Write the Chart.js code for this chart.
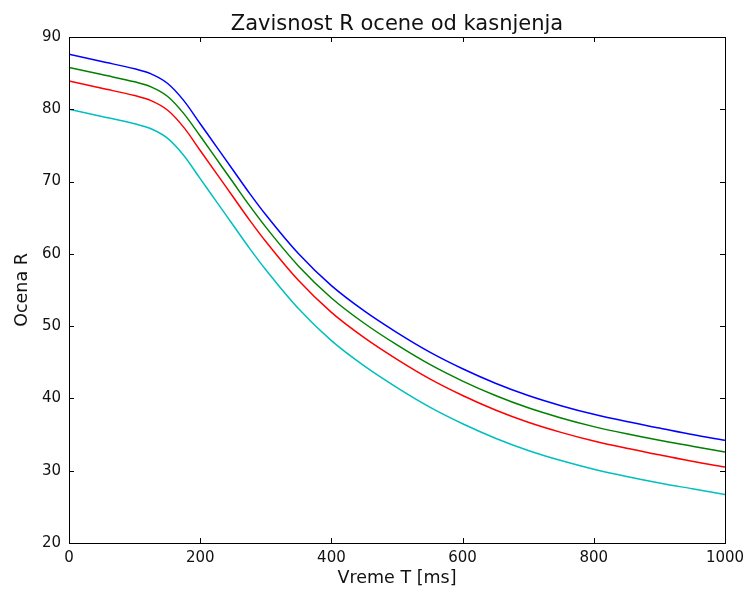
<!DOCTYPE html>
<html>
<head>
<meta charset="utf-8">
<script src="https://cdn.jsdelivr.net/npm/chart.js@4.4.1/dist/chart.umd.min.js"></script>
<style>
  html, body { margin: 0; padding: 0; background: #fff; }
  #wrap { width: 752px; height: 599px; }
</style>
</head>
<body>
<div id="wrap"><canvas id="c" width="752" height="599"></canvas></div>
<script>
// Delay values (ms) at which curves were read
const delays = [0, 50, 100, 125, 150, 175, 200, 225, 250, 275, 300, 350, 400, 450, 500, 550, 600, 650, 700, 750, 800, 850, 900, 950, 1000];
// R rating series
const seriesBlue  = [87.6, 86.6, 85.6, 84.9, 83.6, 81.2, 78.0, 74.8, 71.6, 68.4, 65.4, 60.0, 55.6, 52.1, 49.1, 46.4, 44.1, 42.1, 40.4, 39.0, 37.8, 36.8, 35.9, 35.0, 34.2];
const seriesGreen = [85.8, 84.8, 83.8, 83.1, 81.8, 79.4, 76.3, 73.1, 69.9, 66.7, 63.7, 58.3, 53.9, 50.4, 47.4, 44.7, 42.4, 40.4, 38.7, 37.3, 36.1, 35.1, 34.2, 33.4, 32.6];
const seriesRed   = [83.9, 82.9, 81.9, 81.2, 79.9, 77.5, 74.3, 71.1, 67.9, 64.7, 61.7, 56.3, 51.9, 48.4, 45.4, 42.7, 40.4, 38.4, 36.7, 35.3, 34.1, 33.1, 32.2, 31.3, 30.5];
const seriesCyan  = [80.0, 79.0, 78.0, 77.3, 76.0, 73.6, 70.4, 67.2, 64.0, 60.8, 57.8, 52.4, 48.0, 44.5, 41.5, 38.8, 36.5, 34.5, 32.8, 31.4, 30.2, 29.2, 28.3, 27.5, 26.7];
const xTicks = [0, 200, 400, 600, 800, 1000];
const yTicks = [20, 30, 40, 50, 60, 70, 80, 90];
const titleText = 'Zavisnost R ocene od kasnjenja';
const xTitle = 'Vreme T [ms]';
const yTitle = 'Ocena R';

const toPts = arr => delays.map((d, i) => ({ x: d, y: arr[i] }));
const FONT = 'DejaVu Sans';

const frameTicks = {
  id: 'frameTicks',
  afterDatasetsDraw(chart) {
    const { ctx, chartArea: a, scales } = chart;
    ctx.save();
    ctx.strokeStyle = '#000';
    ctx.lineWidth = 1;
    ctx.beginPath();
    const L = 5;
    xTicks.forEach(v => {
      const px = Math.round(scales.x.getPixelForValue(v)) + 0.5;
      ctx.moveTo(px, a.bottom); ctx.lineTo(px, a.bottom - L);
      ctx.moveTo(px, a.top); ctx.lineTo(px, a.top + L);
    });
    yTicks.forEach(v => {
      const py = Math.round(scales.y.getPixelForValue(v)) + 0.5;
      ctx.moveTo(a.left, py); ctx.lineTo(a.left + L, py);
      ctx.moveTo(a.right, py); ctx.lineTo(a.right - L, py);
    });
    ctx.stroke();
    ctx.strokeRect(Math.round(a.left) + 0.5, Math.round(a.top) + 0.5,
                   Math.round(a.right - a.left), Math.round(a.bottom - a.top));
    // title centred over the plot area
    ctx.fillStyle = '#111';
    ctx.font = '21px "' + FONT + '"';
    ctx.textAlign = 'center';
    ctx.textBaseline = 'alphabetic';
    ctx.fillText(titleText, (a.left + a.right) / 2, 30);
    ctx.restore();
  }
};

new Chart(document.getElementById('c'), {
  type: 'line',
  data: {
    datasets: [
      { data: toPts(seriesBlue),  borderColor: '#0000ff' },
      { data: toPts(seriesGreen), borderColor: '#008000' },
      { data: toPts(seriesRed),   borderColor: '#ff0000' },
      { data: toPts(seriesCyan),  borderColor: '#00bfbf' }
    ].map(d => Object.assign(d, {
      borderWidth: 1.5, pointRadius: 0, fill: false,
      cubicInterpolationMode: 'monotone'
    }))
  },
  options: {
    responsive: false,
    animation: false,
    devicePixelRatio: 1,
    layout: { padding: { left: 0, right: 27, top: 37, bottom: 0 } },
    plugins: {
      legend: { display: false },
      tooltip: { enabled: false },
      title: { display: false }
    },
    scales: {
      x: {
        type: 'linear', min: 0, max: 1000,
        grid: { display: false, drawTicks: false },
        border: { display: true, color: '#000' },
        ticks: {
          stepSize: 200, color: '#111', padding: 6, maxRotation: 0, autoSkip: false,
          font: { family: FONT, size: 15 },
          callback: v => String(v)
        },
        title: {
          display: true, text: xTitle, color: '#111',
          font: { family: FONT, size: 17.5 }, padding: { top: 0, bottom: 10.5 }
        },
        afterFit(s) { s.height = 56; }
      },
      y: {
        type: 'linear', min: 20, max: 90,
        grid: { display: false, drawTicks: false },
        border: { display: true, color: '#000' },
        ticks: {
          stepSize: 10, color: '#111', padding: 8,
          font: { family: FONT, size: 15 },
          callback: v => String(v)
        },
        title: {
          display: true, text: yTitle, color: '#111',
          font: { family: FONT, size: 17.5 }, padding: { top: 11.5, bottom: 0 }
        },
        afterFit(s) { s.width = 69; }
      }
    }
  },
  plugins: [frameTicks]
});
</script>
</body>
</html>
